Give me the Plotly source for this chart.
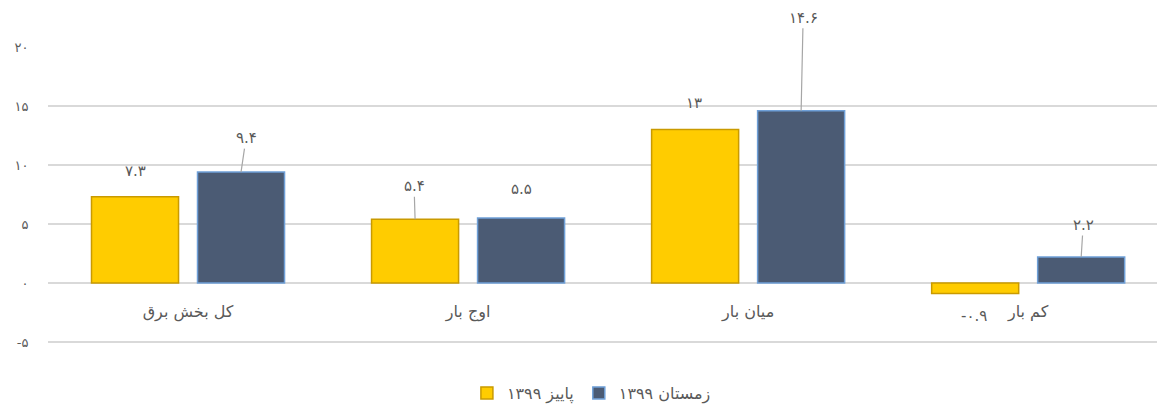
import plotly.graph_objects as go

categories = ["کل بخش برق", "اوج بار", "میان بار", "کم بار"]
series_names = ["پاییز ۱۳۹۹", "زمستان ۱۳۹۹"]
autumn_values = [7.3, 5.4, 13, -0.9]
winter_values = [9.4, 5.5, 14.6, 2.2]
y_tick_values = [-5, 0, 5, 10, 15, 20]
y_tick_labels = ["-۵", "۰", "۵", "۱۰", "۱۵", "۲۰"]

FA_DIGITS = str.maketrans("0123456789", "۰۱۲۳۴۵۶۷۸۹")


def fa(v):
    return str(v).translate(FA_DIGITS)


# style settings (label placement in pixels: dy beyond bar end, dx, leader line)
label_style = {
    0: [(26, 0, False), (33, -1, True), (27, -1, False), (22, -1, False)],
    1: [(34, 5, True), (29, 0, False), (93, 2, True), (32, 2, True)],
}
colors = ["#FFCC00", "#4B5B74"]
line_colors = ["#C99A00", "#6FA0D8"]
font_family = "DejaVu Sans, Noto Sans, sans-serif"
text_color = "#595959"
grid_color = "#D9D9D9"

fig = go.Figure()
all_values = [autumn_values, winter_values]
for i, (name, vals) in enumerate(zip(series_names, all_values)):
    fig.add_trace(go.Bar(
        x=categories, y=vals, name=name,
        marker=dict(color=colors[i], line=dict(color=line_colors[i], width=1.5)),
        cliponaxis=False,
    ))

bargap = 0.243
bargroupgap = 0.179
slot = (1 - bargap) / 2
offsets = [-slot / 2, slot / 2]

annotations = []
for i, vals in enumerate(all_values):
    for j, v in enumerate(vals):
        dy, dx, leader = label_style[i][j]
        sign = 1 if v >= 0 else -1
        common = dict(
            x=j + offsets[i], y=v, xref="x", yref="y", text=fa(v),
            font=dict(family=font_family, size=15, color=text_color),
        )
        if leader:
            annotations.append(dict(
                **common, showarrow=True, arrowhead=0, arrowwidth=1.2,
                arrowcolor="#A6A6A6", ax=dx, ay=-dy * sign, standoff=0,
            ))
        else:
            annotations.append(dict(
                **common, showarrow=False, xshift=dx, yshift=dy * sign,
            ))

y_min, y_max = -5.17, 20
zero_pos = (0 - y_min) / (y_max - y_min)

fig.update_layout(
    width=1157, height=409,
    margin=dict(l=48, r=0, t=47, b=65, autoexpand=False),
    plot_bgcolor="white", paper_bgcolor="white",
    barmode="group", bargap=bargap, bargroupgap=bargroupgap,
    font=dict(family=font_family, color=text_color, size=15),
    showlegend=True,
    legend=dict(orientation="h", x=0.49, xanchor="center", y=-0.165, yanchor="middle",
                font=dict(size=16, color=text_color), traceorder="normal",
                itemwidth=30),
    annotations=annotations,
    xaxis=dict(
        range=[-0.5, 3.46], showgrid=False, showline=False, zeroline=False,
        anchor="free", position=zero_pos, automargin=False,
        ticks="outside", ticklen=14, tickcolor="rgba(0,0,0,0)",
        tickfont=dict(size=16, color=text_color),
    ),
    yaxis=dict(
        range=[y_min, y_max], tickvals=y_tick_values, ticktext=y_tick_labels,
        showgrid=True, gridcolor=grid_color, gridwidth=1.5, zeroline=False,
        showline=False, ticks="outside", ticklen=16, tickcolor="rgba(0,0,0,0)",
        tickfont=dict(size=13, color=text_color), automargin=False,
    ),
)

fig.write_html("out.html", config={"displayModeBar": False},
               post_script="document.body.style.margin='0';")
